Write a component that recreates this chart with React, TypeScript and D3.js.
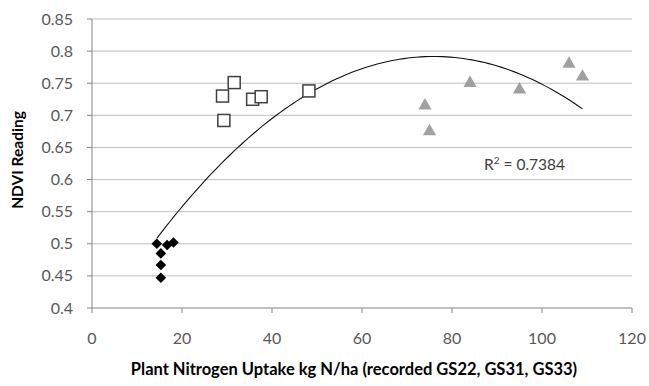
import React from 'react';
import * as d3 from 'd3';

// Series
const diamondX = [14.4, 15.3, 15.3, 15.3, 16.7, 18.1];
const diamondY = [0.5, 0.485, 0.467, 0.447, 0.498, 0.502];
const squareX = [29.0, 31.6, 29.3, 35.7, 37.6, 48.2];
const squareY = [0.73, 0.751, 0.692, 0.725, 0.729, 0.738];
const triangleX = [74, 75, 84, 95, 106, 109];
const triangleY = [0.715, 0.675, 0.75, 0.74, 0.78, 0.76];

const xTicks = [0, 20, 40, 60, 80, 100, 120];
const yTicks = [0.4, 0.45, 0.5, 0.55, 0.6, 0.65, 0.7, 0.75, 0.8, 0.85];
const r2Label = '0.7384';

// least squares fit y = a + b x + c x^2
function quadFit(xs: number[], ys: number[]) {
    const s = [0, 0, 0, 0, 0];
    const t = [0, 0, 0];
    xs.forEach((x, i) => {
        for (let k = 0; k < 5; k++) s[k] += Math.pow(x, k);
        for (let k = 0; k < 3; k++) t[k] += ys[i] * Math.pow(x, k);
    });
    const m = [
        [s[0], s[1], s[2], t[0]],
        [s[1], s[2], s[3], t[1]],
        [s[2], s[3], s[4], t[2]],
    ];
    for (let i = 0; i < 3; i++) {
        for (let j = i + 1; j < 3; j++) {
            const f = m[j][i] / m[i][i];
            for (let k = i; k < 4; k++) m[j][k] -= f * m[i][k];
        }
    }
    const c = [0, 0, 0];
    for (let i = 2; i >= 0; i--) {
        let v = m[i][3];
        for (let k = i + 1; k < 3; k++) v -= m[i][k] * c[k];
        c[i] = v / m[i][i];
    }
    return (x: number) => c[0] + c[1] * x + c[2] * x * x;
}

export default function App() {
    const margin = { top: 19, right: 17, bottom: 78, left: 92 };
    const W = 649, H = 386;
    const width = W - margin.left - margin.right;
    const height = H - margin.top - margin.bottom;

    const x = d3.scaleLinear().domain([0, 120]).range([0, width]);
    const y = d3.scaleLinear().domain([0.4, 0.85]).range([height, 0]);

    const allX = [...diamondX, ...squareX, ...triangleX];
    const allY = [...diamondY, ...squareY, ...triangleY];
    const fit = quadFit(allX, allY);
    const [xmin, xmax] = d3.extent(allX) as [number, number];
    const curvePts = d3.range(0, 101).map(i => xmin + (xmax - xmin) * i / 100);
    const line = d3.line<number>().x(d => x(d)).y(d => y(fit(d)));

    const diamond = d3.symbol().type(d3.symbolSquare).size(56)();
    const triangle = d3.symbol().type(d3.symbolTriangle).size(75)();
    const font = 'Lato, "Open Sans", sans-serif';

    return (
        <svg width={W} height={H} style={{ position: 'absolute', left: 0, top: 0, background: '#fff' }}>
            <g transform={`translate(${margin.left},${margin.top})`}>
                {yTicks.map(t => (
                    <g key={t}>
                        <line x1={0} x2={width} y1={y(t)} y2={y(t)} stroke={t === 0.4 ? '#868686' : '#bfbfbf'} strokeWidth={1} />
                        <line x1={-5} x2={0} y1={y(t)} y2={y(t)} stroke="#868686" />
                        <text x={-19} y={y(t)} dy="0.35em" textAnchor="end" fontSize="16px" fill="#595959" fontFamily={font}>
                            {t}
                        </text>
                    </g>
                ))}
                <line x1={0} x2={0} y1={0} y2={height} stroke="#868686" />
                {xTicks.map(t => (
                    <g key={t}>
                        <line x1={x(t)} x2={x(t)} y1={height} y2={height + 5} stroke="#868686" />
                        <text x={x(t)} y={height + 30} dy="0.35em" textAnchor="middle" fontSize="16px" fill="#595959" fontFamily={font}>
                            {t}
                        </text>
                    </g>
                ))}
                <path d={line(curvePts) || ''} fill="none" stroke="#111" strokeWidth={1.1} />
                {diamondX.map((d, i) => (
                    <path key={'d' + i} d={diamond} transform={`translate(${x(d)},${y(diamondY[i])}) rotate(45)`} fill="#000" />
                ))}
                {squareX.map((d, i) => (
                    <rect key={'s' + i} x={x(d) - 6} y={y(squareY[i]) - 6} width={12} height={12} fill="#fff" stroke="#404040" strokeWidth={1.5} />
                ))}
                {triangleX.map((d, i) => (
                    <path key={'t' + i} d={triangle} transform={`translate(${x(d)},${y(triangleY[i])})`} fill="#a0a0a0" />
                ))}
            </g>
            <text x={484} y={165} dy="0.35em" fontSize="15.5px" fill="#404040" fontFamily={font}>
                R<tspan dy="-6" fontSize="10px">2</tspan><tspan dy="6"> = {r2Label}</tspan>
            </text>
            <text x={354} y={369} dy="0.35em" textAnchor="middle" fontSize="16.5px" fontWeight="bold" fill="#000" fontFamily={font}>
                Plant Nitrogen Uptake kg N/ha (recorded GS22, GS31, GS33)
            </text>
            <text transform="translate(18,160) rotate(-90)" dy="0.35em" textAnchor="middle" fontSize="15.5px" fontWeight="bold" fill="#000" fontFamily={font}>
                NDVI Reading
            </text>
        </svg>
    );
}
